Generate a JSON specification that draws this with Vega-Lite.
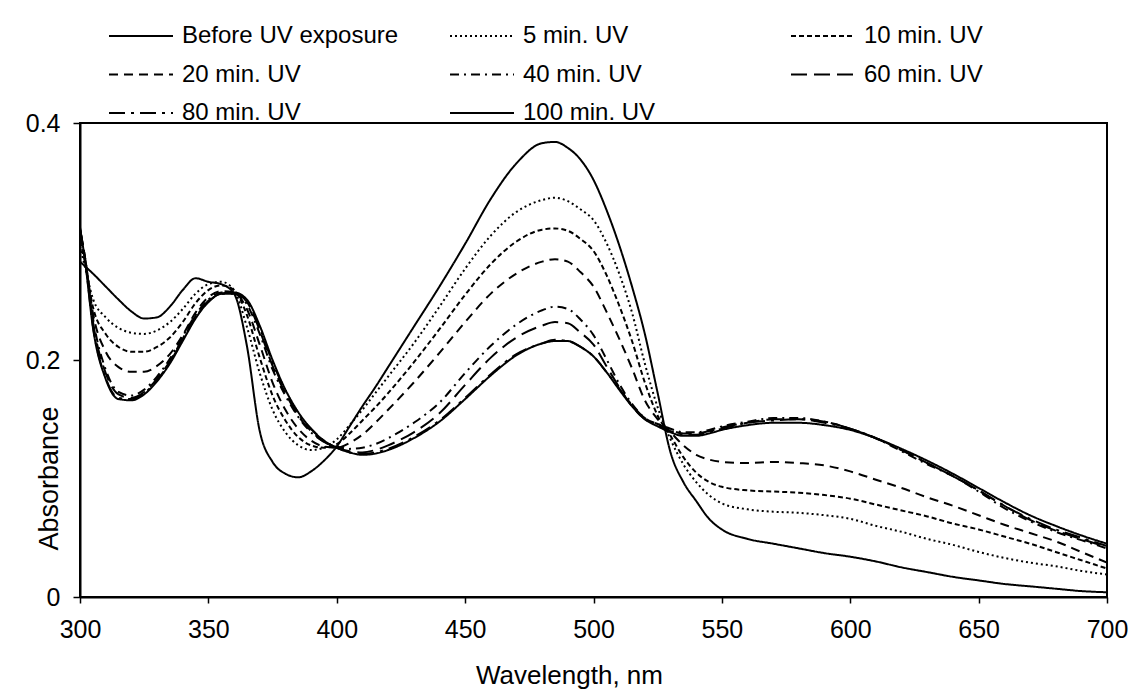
{
  "$schema": "https://vega.github.io/schema/vega-lite/v6.json",
  "width": 1027,
  "height": 474,
  "autosize": {"type": "none"},
  "padding": {"left": 80, "top": 123, "right": 27, "bottom": 103},
  "background": "white",
  "config": {
    "font": "Liberation Sans",
    "view": {"stroke": "black", "strokeWidth": 2},
    "axis": {"grid": false, "domainColor": "black", "domainWidth": 2, "tickColor": "black", "tickWidth": 1.5, "labelColor": "black", "titleColor": "black", "titleFontWeight": "normal", "labelFont": "Liberation Sans", "titleFont": "Liberation Sans"}
  },
  "data": {"values": [
{"s":"Before UV exposure","w":300,"a":0.283},{"s":"Before UV exposure","w":302,"a":0.279},{"s":"Before UV exposure","w":305,"a":0.273},{"s":"Before UV exposure","w":310,"a":0.262},{"s":"Before UV exposure","w":315,"a":0.251},{"s":"Before UV exposure","w":320,"a":0.241},{"s":"Before UV exposure","w":325,"a":0.235},{"s":"Before UV exposure","w":330,"a":0.236},{"s":"Before UV exposure","w":335,"a":0.245},{"s":"Before UV exposure","w":340,"a":0.259},{"s":"Before UV exposure","w":345,"a":0.269},{"s":"Before UV exposure","w":350,"a":0.266},{"s":"Before UV exposure","w":355,"a":0.264},{"s":"Before UV exposure","w":360,"a":0.256},{"s":"Before UV exposure","w":365,"a":0.212},{"s":"Before UV exposure","w":370,"a":0.140},{"s":"Before UV exposure","w":375,"a":0.114},{"s":"Before UV exposure","w":380,"a":0.104},{"s":"Before UV exposure","w":385,"a":0.101},{"s":"Before UV exposure","w":390,"a":0.106},{"s":"Before UV exposure","w":395,"a":0.115},{"s":"Before UV exposure","w":400,"a":0.127},{"s":"Before UV exposure","w":405,"a":0.144},{"s":"Before UV exposure","w":410,"a":0.161},{"s":"Before UV exposure","w":415,"a":0.177},{"s":"Before UV exposure","w":420,"a":0.194},{"s":"Before UV exposure","w":430,"a":0.228},{"s":"Before UV exposure","w":440,"a":0.262},{"s":"Before UV exposure","w":450,"a":0.298},{"s":"Before UV exposure","w":460,"a":0.336},{"s":"Before UV exposure","w":470,"a":0.366},{"s":"Before UV exposure","w":480,"a":0.383},{"s":"Before UV exposure","w":485,"a":0.384},{"s":"Before UV exposure","w":490,"a":0.379},{"s":"Before UV exposure","w":495,"a":0.369},{"s":"Before UV exposure","w":500,"a":0.352},{"s":"Before UV exposure","w":505,"a":0.327},{"s":"Before UV exposure","w":510,"a":0.297},{"s":"Before UV exposure","w":515,"a":0.262},{"s":"Before UV exposure","w":520,"a":0.222},{"s":"Before UV exposure","w":525,"a":0.172},{"s":"Before UV exposure","w":530,"a":0.122},{"s":"Before UV exposure","w":535,"a":0.097},{"s":"Before UV exposure","w":540,"a":0.081},{"s":"Before UV exposure","w":545,"a":0.066},{"s":"Before UV exposure","w":550,"a":0.057},{"s":"Before UV exposure","w":560,"a":0.049},{"s":"Before UV exposure","w":570,"a":0.045},{"s":"Before UV exposure","w":580,"a":0.041},{"s":"Before UV exposure","w":590,"a":0.037},{"s":"Before UV exposure","w":600,"a":0.034},{"s":"Before UV exposure","w":610,"a":0.030},{"s":"Before UV exposure","w":620,"a":0.025},{"s":"Before UV exposure","w":630,"a":0.021},{"s":"Before UV exposure","w":640,"a":0.017},{"s":"Before UV exposure","w":650,"a":0.014},{"s":"Before UV exposure","w":660,"a":0.011},{"s":"Before UV exposure","w":670,"a":0.009},{"s":"Before UV exposure","w":680,"a":0.007},{"s":"Before UV exposure","w":690,"a":0.005},{"s":"Before UV exposure","w":700,"a":0.004},
{"s":"5 min. UV","w":300,"a":0.296},{"s":"5 min. UV","w":302,"a":0.278},{"s":"5 min. UV","w":305,"a":0.252},{"s":"5 min. UV","w":310,"a":0.236},{"s":"5 min. UV","w":315,"a":0.227},{"s":"5 min. UV","w":320,"a":0.223},{"s":"5 min. UV","w":325,"a":0.222},{"s":"5 min. UV","w":330,"a":0.225},{"s":"5 min. UV","w":335,"a":0.232},{"s":"5 min. UV","w":340,"a":0.243},{"s":"5 min. UV","w":345,"a":0.256},{"s":"5 min. UV","w":350,"a":0.264},{"s":"5 min. UV","w":355,"a":0.266},{"s":"5 min. UV","w":360,"a":0.259},{"s":"5 min. UV","w":365,"a":0.228},{"s":"5 min. UV","w":370,"a":0.189},{"s":"5 min. UV","w":375,"a":0.158},{"s":"5 min. UV","w":380,"a":0.139},{"s":"5 min. UV","w":385,"a":0.128},{"s":"5 min. UV","w":390,"a":0.124},{"s":"5 min. UV","w":395,"a":0.126},{"s":"5 min. UV","w":400,"a":0.133},{"s":"5 min. UV","w":405,"a":0.145},{"s":"5 min. UV","w":410,"a":0.158},{"s":"5 min. UV","w":415,"a":0.172},{"s":"5 min. UV","w":420,"a":0.186},{"s":"5 min. UV","w":430,"a":0.214},{"s":"5 min. UV","w":440,"a":0.245},{"s":"5 min. UV","w":450,"a":0.277},{"s":"5 min. UV","w":460,"a":0.305},{"s":"5 min. UV","w":470,"a":0.325},{"s":"5 min. UV","w":480,"a":0.335},{"s":"5 min. UV","w":485,"a":0.337},{"s":"5 min. UV","w":490,"a":0.334},{"s":"5 min. UV","w":495,"a":0.327},{"s":"5 min. UV","w":500,"a":0.318},{"s":"5 min. UV","w":505,"a":0.299},{"s":"5 min. UV","w":510,"a":0.273},{"s":"5 min. UV","w":515,"a":0.240},{"s":"5 min. UV","w":520,"a":0.197},{"s":"5 min. UV","w":525,"a":0.160},{"s":"5 min. UV","w":530,"a":0.133},{"s":"5 min. UV","w":535,"a":0.112},{"s":"5 min. UV","w":540,"a":0.097},{"s":"5 min. UV","w":545,"a":0.086},{"s":"5 min. UV","w":550,"a":0.079},{"s":"5 min. UV","w":560,"a":0.074},{"s":"5 min. UV","w":570,"a":0.072},{"s":"5 min. UV","w":580,"a":0.071},{"s":"5 min. UV","w":590,"a":0.069},{"s":"5 min. UV","w":600,"a":0.066},{"s":"5 min. UV","w":610,"a":0.060},{"s":"5 min. UV","w":620,"a":0.055},{"s":"5 min. UV","w":630,"a":0.049},{"s":"5 min. UV","w":640,"a":0.044},{"s":"5 min. UV","w":650,"a":0.038},{"s":"5 min. UV","w":660,"a":0.033},{"s":"5 min. UV","w":670,"a":0.029},{"s":"5 min. UV","w":680,"a":0.026},{"s":"5 min. UV","w":690,"a":0.022},{"s":"5 min. UV","w":700,"a":0.019},
{"s":"10 min. UV","w":300,"a":0.300},{"s":"10 min. UV","w":302,"a":0.282},{"s":"10 min. UV","w":305,"a":0.245},{"s":"10 min. UV","w":310,"a":0.222},{"s":"10 min. UV","w":315,"a":0.211},{"s":"10 min. UV","w":320,"a":0.207},{"s":"10 min. UV","w":325,"a":0.207},{"s":"10 min. UV","w":330,"a":0.211},{"s":"10 min. UV","w":335,"a":0.219},{"s":"10 min. UV","w":340,"a":0.232},{"s":"10 min. UV","w":345,"a":0.248},{"s":"10 min. UV","w":350,"a":0.259},{"s":"10 min. UV","w":355,"a":0.263},{"s":"10 min. UV","w":360,"a":0.259},{"s":"10 min. UV","w":365,"a":0.238},{"s":"10 min. UV","w":370,"a":0.202},{"s":"10 min. UV","w":375,"a":0.170},{"s":"10 min. UV","w":380,"a":0.149},{"s":"10 min. UV","w":385,"a":0.135},{"s":"10 min. UV","w":390,"a":0.128},{"s":"10 min. UV","w":395,"a":0.126},{"s":"10 min. UV","w":400,"a":0.129},{"s":"10 min. UV","w":405,"a":0.138},{"s":"10 min. UV","w":410,"a":0.149},{"s":"10 min. UV","w":415,"a":0.160},{"s":"10 min. UV","w":420,"a":0.172},{"s":"10 min. UV","w":430,"a":0.198},{"s":"10 min. UV","w":440,"a":0.226},{"s":"10 min. UV","w":450,"a":0.255},{"s":"10 min. UV","w":460,"a":0.281},{"s":"10 min. UV","w":470,"a":0.300},{"s":"10 min. UV","w":480,"a":0.310},{"s":"10 min. UV","w":485,"a":0.311},{"s":"10 min. UV","w":490,"a":0.309},{"s":"10 min. UV","w":495,"a":0.302},{"s":"10 min. UV","w":500,"a":0.292},{"s":"10 min. UV","w":505,"a":0.272},{"s":"10 min. UV","w":510,"a":0.246},{"s":"10 min. UV","w":515,"a":0.216},{"s":"10 min. UV","w":520,"a":0.181},{"s":"10 min. UV","w":525,"a":0.153},{"s":"10 min. UV","w":530,"a":0.136},{"s":"10 min. UV","w":535,"a":0.118},{"s":"10 min. UV","w":540,"a":0.105},{"s":"10 min. UV","w":545,"a":0.097},{"s":"10 min. UV","w":550,"a":0.093},{"s":"10 min. UV","w":560,"a":0.090},{"s":"10 min. UV","w":570,"a":0.089},{"s":"10 min. UV","w":580,"a":0.088},{"s":"10 min. UV","w":590,"a":0.086},{"s":"10 min. UV","w":600,"a":0.083},{"s":"10 min. UV","w":610,"a":0.078},{"s":"10 min. UV","w":620,"a":0.073},{"s":"10 min. UV","w":630,"a":0.068},{"s":"10 min. UV","w":640,"a":0.062},{"s":"10 min. UV","w":650,"a":0.057},{"s":"10 min. UV","w":660,"a":0.051},{"s":"10 min. UV","w":670,"a":0.045},{"s":"10 min. UV","w":680,"a":0.038},{"s":"10 min. UV","w":690,"a":0.031},{"s":"10 min. UV","w":700,"a":0.024},
{"s":"20 min. UV","w":300,"a":0.305},{"s":"20 min. UV","w":302,"a":0.285},{"s":"20 min. UV","w":305,"a":0.240},{"s":"20 min. UV","w":310,"a":0.207},{"s":"20 min. UV","w":315,"a":0.194},{"s":"20 min. UV","w":320,"a":0.190},{"s":"20 min. UV","w":325,"a":0.190},{"s":"20 min. UV","w":330,"a":0.195},{"s":"20 min. UV","w":335,"a":0.205},{"s":"20 min. UV","w":340,"a":0.221},{"s":"20 min. UV","w":345,"a":0.240},{"s":"20 min. UV","w":350,"a":0.253},{"s":"20 min. UV","w":355,"a":0.258},{"s":"20 min. UV","w":360,"a":0.257},{"s":"20 min. UV","w":365,"a":0.243},{"s":"20 min. UV","w":370,"a":0.213},{"s":"20 min. UV","w":375,"a":0.181},{"s":"20 min. UV","w":380,"a":0.158},{"s":"20 min. UV","w":385,"a":0.142},{"s":"20 min. UV","w":390,"a":0.132},{"s":"20 min. UV","w":395,"a":0.127},{"s":"20 min. UV","w":400,"a":0.126},{"s":"20 min. UV","w":405,"a":0.130},{"s":"20 min. UV","w":410,"a":0.137},{"s":"20 min. UV","w":415,"a":0.147},{"s":"20 min. UV","w":420,"a":0.158},{"s":"20 min. UV","w":430,"a":0.181},{"s":"20 min. UV","w":440,"a":0.206},{"s":"20 min. UV","w":450,"a":0.232},{"s":"20 min. UV","w":460,"a":0.256},{"s":"20 min. UV","w":470,"a":0.273},{"s":"20 min. UV","w":480,"a":0.283},{"s":"20 min. UV","w":485,"a":0.285},{"s":"20 min. UV","w":490,"a":0.283},{"s":"20 min. UV","w":495,"a":0.274},{"s":"20 min. UV","w":500,"a":0.262},{"s":"20 min. UV","w":505,"a":0.241},{"s":"20 min. UV","w":510,"a":0.218},{"s":"20 min. UV","w":515,"a":0.193},{"s":"20 min. UV","w":520,"a":0.166},{"s":"20 min. UV","w":525,"a":0.150},{"s":"20 min. UV","w":530,"a":0.139},{"s":"20 min. UV","w":535,"a":0.128},{"s":"20 min. UV","w":540,"a":0.120},{"s":"20 min. UV","w":545,"a":0.116},{"s":"20 min. UV","w":550,"a":0.114},{"s":"20 min. UV","w":560,"a":0.113},{"s":"20 min. UV","w":570,"a":0.114},{"s":"20 min. UV","w":580,"a":0.113},{"s":"20 min. UV","w":590,"a":0.111},{"s":"20 min. UV","w":600,"a":0.106},{"s":"20 min. UV","w":610,"a":0.099},{"s":"20 min. UV","w":620,"a":0.092},{"s":"20 min. UV","w":630,"a":0.084},{"s":"20 min. UV","w":640,"a":0.077},{"s":"20 min. UV","w":650,"a":0.069},{"s":"20 min. UV","w":660,"a":0.061},{"s":"20 min. UV","w":670,"a":0.054},{"s":"20 min. UV","w":680,"a":0.047},{"s":"20 min. UV","w":690,"a":0.038},{"s":"20 min. UV","w":700,"a":0.029},
{"s":"40 min. UV","w":300,"a":0.310},{"s":"40 min. UV","w":302,"a":0.286},{"s":"40 min. UV","w":305,"a":0.236},{"s":"40 min. UV","w":310,"a":0.192},{"s":"40 min. UV","w":315,"a":0.173},{"s":"40 min. UV","w":320,"a":0.170},{"s":"40 min. UV","w":325,"a":0.175},{"s":"40 min. UV","w":330,"a":0.186},{"s":"40 min. UV","w":335,"a":0.201},{"s":"40 min. UV","w":340,"a":0.220},{"s":"40 min. UV","w":345,"a":0.238},{"s":"40 min. UV","w":350,"a":0.251},{"s":"40 min. UV","w":355,"a":0.257},{"s":"40 min. UV","w":360,"a":0.256},{"s":"40 min. UV","w":365,"a":0.247},{"s":"40 min. UV","w":370,"a":0.222},{"s":"40 min. UV","w":375,"a":0.192},{"s":"40 min. UV","w":380,"a":0.170},{"s":"40 min. UV","w":385,"a":0.152},{"s":"40 min. UV","w":390,"a":0.139},{"s":"40 min. UV","w":395,"a":0.131},{"s":"40 min. UV","w":400,"a":0.127},{"s":"40 min. UV","w":405,"a":0.125},{"s":"40 min. UV","w":410,"a":0.126},{"s":"40 min. UV","w":415,"a":0.129},{"s":"40 min. UV","w":420,"a":0.134},{"s":"40 min. UV","w":430,"a":0.147},{"s":"40 min. UV","w":440,"a":0.164},{"s":"40 min. UV","w":450,"a":0.189},{"s":"40 min. UV","w":460,"a":0.212},{"s":"40 min. UV","w":470,"a":0.230},{"s":"40 min. UV","w":480,"a":0.242},{"s":"40 min. UV","w":485,"a":0.245},{"s":"40 min. UV","w":490,"a":0.243},{"s":"40 min. UV","w":495,"a":0.234},{"s":"40 min. UV","w":500,"a":0.221},{"s":"40 min. UV","w":505,"a":0.201},{"s":"40 min. UV","w":510,"a":0.180},{"s":"40 min. UV","w":515,"a":0.163},{"s":"40 min. UV","w":520,"a":0.151},{"s":"40 min. UV","w":525,"a":0.146},{"s":"40 min. UV","w":530,"a":0.142},{"s":"40 min. UV","w":535,"a":0.139},{"s":"40 min. UV","w":540,"a":0.139},{"s":"40 min. UV","w":545,"a":0.141},{"s":"40 min. UV","w":550,"a":0.144},{"s":"40 min. UV","w":560,"a":0.148},{"s":"40 min. UV","w":570,"a":0.151},{"s":"40 min. UV","w":580,"a":0.151},{"s":"40 min. UV","w":590,"a":0.148},{"s":"40 min. UV","w":600,"a":0.142},{"s":"40 min. UV","w":610,"a":0.134},{"s":"40 min. UV","w":620,"a":0.123},{"s":"40 min. UV","w":630,"a":0.112},{"s":"40 min. UV","w":640,"a":0.102},{"s":"40 min. UV","w":650,"a":0.089},{"s":"40 min. UV","w":660,"a":0.075},{"s":"40 min. UV","w":670,"a":0.064},{"s":"40 min. UV","w":680,"a":0.055},{"s":"40 min. UV","w":690,"a":0.048},{"s":"40 min. UV","w":700,"a":0.041},
{"s":"60 min. UV","w":300,"a":0.310},{"s":"60 min. UV","w":302,"a":0.286},{"s":"60 min. UV","w":305,"a":0.233},{"s":"60 min. UV","w":310,"a":0.189},{"s":"60 min. UV","w":315,"a":0.171},{"s":"60 min. UV","w":320,"a":0.168},{"s":"60 min. UV","w":325,"a":0.173},{"s":"60 min. UV","w":330,"a":0.184},{"s":"60 min. UV","w":335,"a":0.199},{"s":"60 min. UV","w":340,"a":0.218},{"s":"60 min. UV","w":345,"a":0.237},{"s":"60 min. UV","w":350,"a":0.250},{"s":"60 min. UV","w":355,"a":0.256},{"s":"60 min. UV","w":360,"a":0.256},{"s":"60 min. UV","w":365,"a":0.249},{"s":"60 min. UV","w":370,"a":0.225},{"s":"60 min. UV","w":375,"a":0.195},{"s":"60 min. UV","w":380,"a":0.172},{"s":"60 min. UV","w":385,"a":0.153},{"s":"60 min. UV","w":390,"a":0.140},{"s":"60 min. UV","w":395,"a":0.131},{"s":"60 min. UV","w":400,"a":0.126},{"s":"60 min. UV","w":405,"a":0.123},{"s":"60 min. UV","w":410,"a":0.122},{"s":"60 min. UV","w":415,"a":0.124},{"s":"60 min. UV","w":420,"a":0.128},{"s":"60 min. UV","w":430,"a":0.139},{"s":"60 min. UV","w":440,"a":0.155},{"s":"60 min. UV","w":450,"a":0.179},{"s":"60 min. UV","w":460,"a":0.202},{"s":"60 min. UV","w":470,"a":0.219},{"s":"60 min. UV","w":480,"a":0.229},{"s":"60 min. UV","w":485,"a":0.232},{"s":"60 min. UV","w":490,"a":0.231},{"s":"60 min. UV","w":495,"a":0.223},{"s":"60 min. UV","w":500,"a":0.213},{"s":"60 min. UV","w":505,"a":0.195},{"s":"60 min. UV","w":510,"a":0.177},{"s":"60 min. UV","w":515,"a":0.161},{"s":"60 min. UV","w":520,"a":0.150},{"s":"60 min. UV","w":525,"a":0.146},{"s":"60 min. UV","w":530,"a":0.141},{"s":"60 min. UV","w":535,"a":0.138},{"s":"60 min. UV","w":540,"a":0.138},{"s":"60 min. UV","w":545,"a":0.140},{"s":"60 min. UV","w":550,"a":0.143},{"s":"60 min. UV","w":560,"a":0.147},{"s":"60 min. UV","w":570,"a":0.150},{"s":"60 min. UV","w":580,"a":0.150},{"s":"60 min. UV","w":590,"a":0.148},{"s":"60 min. UV","w":600,"a":0.142},{"s":"60 min. UV","w":610,"a":0.134},{"s":"60 min. UV","w":620,"a":0.124},{"s":"60 min. UV","w":630,"a":0.113},{"s":"60 min. UV","w":640,"a":0.102},{"s":"60 min. UV","w":650,"a":0.090},{"s":"60 min. UV","w":660,"a":0.077},{"s":"60 min. UV","w":670,"a":0.065},{"s":"60 min. UV","w":680,"a":0.056},{"s":"60 min. UV","w":690,"a":0.049},{"s":"60 min. UV","w":700,"a":0.042},
{"s":"80 min. UV","w":300,"a":0.311},{"s":"80 min. UV","w":302,"a":0.284},{"s":"80 min. UV","w":305,"a":0.229},{"s":"80 min. UV","w":310,"a":0.185},{"s":"80 min. UV","w":315,"a":0.168},{"s":"80 min. UV","w":320,"a":0.167},{"s":"80 min. UV","w":325,"a":0.172},{"s":"80 min. UV","w":330,"a":0.183},{"s":"80 min. UV","w":335,"a":0.198},{"s":"80 min. UV","w":340,"a":0.217},{"s":"80 min. UV","w":345,"a":0.236},{"s":"80 min. UV","w":350,"a":0.249},{"s":"80 min. UV","w":355,"a":0.256},{"s":"80 min. UV","w":360,"a":0.256},{"s":"80 min. UV","w":365,"a":0.250},{"s":"80 min. UV","w":370,"a":0.227},{"s":"80 min. UV","w":375,"a":0.198},{"s":"80 min. UV","w":380,"a":0.174},{"s":"80 min. UV","w":385,"a":0.155},{"s":"80 min. UV","w":390,"a":0.142},{"s":"80 min. UV","w":395,"a":0.132},{"s":"80 min. UV","w":400,"a":0.126},{"s":"80 min. UV","w":405,"a":0.122},{"s":"80 min. UV","w":410,"a":0.121},{"s":"80 min. UV","w":415,"a":0.122},{"s":"80 min. UV","w":420,"a":0.125},{"s":"80 min. UV","w":430,"a":0.135},{"s":"80 min. UV","w":440,"a":0.149},{"s":"80 min. UV","w":450,"a":0.168},{"s":"80 min. UV","w":460,"a":0.188},{"s":"80 min. UV","w":470,"a":0.205},{"s":"80 min. UV","w":480,"a":0.214},{"s":"80 min. UV","w":485,"a":0.217},{"s":"80 min. UV","w":490,"a":0.216},{"s":"80 min. UV","w":495,"a":0.211},{"s":"80 min. UV","w":500,"a":0.203},{"s":"80 min. UV","w":505,"a":0.190},{"s":"80 min. UV","w":510,"a":0.176},{"s":"80 min. UV","w":515,"a":0.162},{"s":"80 min. UV","w":520,"a":0.151},{"s":"80 min. UV","w":525,"a":0.145},{"s":"80 min. UV","w":530,"a":0.140},{"s":"80 min. UV","w":535,"a":0.137},{"s":"80 min. UV","w":540,"a":0.137},{"s":"80 min. UV","w":545,"a":0.139},{"s":"80 min. UV","w":550,"a":0.142},{"s":"80 min. UV","w":560,"a":0.147},{"s":"80 min. UV","w":570,"a":0.149},{"s":"80 min. UV","w":580,"a":0.150},{"s":"80 min. UV","w":590,"a":0.147},{"s":"80 min. UV","w":600,"a":0.142},{"s":"80 min. UV","w":610,"a":0.134},{"s":"80 min. UV","w":620,"a":0.124},{"s":"80 min. UV","w":630,"a":0.113},{"s":"80 min. UV","w":640,"a":0.102},{"s":"80 min. UV","w":650,"a":0.090},{"s":"80 min. UV","w":660,"a":0.077},{"s":"80 min. UV","w":670,"a":0.066},{"s":"80 min. UV","w":680,"a":0.057},{"s":"80 min. UV","w":690,"a":0.050},{"s":"80 min. UV","w":700,"a":0.043},
{"s":"100 min. UV","w":300,"a":0.312},{"s":"100 min. UV","w":302,"a":0.283},{"s":"100 min. UV","w":305,"a":0.228},{"s":"100 min. UV","w":310,"a":0.184},{"s":"100 min. UV","w":315,"a":0.167},{"s":"100 min. UV","w":320,"a":0.166},{"s":"100 min. UV","w":325,"a":0.171},{"s":"100 min. UV","w":330,"a":0.182},{"s":"100 min. UV","w":335,"a":0.197},{"s":"100 min. UV","w":340,"a":0.216},{"s":"100 min. UV","w":345,"a":0.235},{"s":"100 min. UV","w":350,"a":0.249},{"s":"100 min. UV","w":355,"a":0.256},{"s":"100 min. UV","w":360,"a":0.257},{"s":"100 min. UV","w":365,"a":0.251},{"s":"100 min. UV","w":370,"a":0.229},{"s":"100 min. UV","w":375,"a":0.200},{"s":"100 min. UV","w":380,"a":0.175},{"s":"100 min. UV","w":385,"a":0.156},{"s":"100 min. UV","w":390,"a":0.142},{"s":"100 min. UV","w":395,"a":0.132},{"s":"100 min. UV","w":400,"a":0.126},{"s":"100 min. UV","w":405,"a":0.122},{"s":"100 min. UV","w":410,"a":0.120},{"s":"100 min. UV","w":415,"a":0.121},{"s":"100 min. UV","w":420,"a":0.124},{"s":"100 min. UV","w":430,"a":0.134},{"s":"100 min. UV","w":440,"a":0.148},{"s":"100 min. UV","w":450,"a":0.167},{"s":"100 min. UV","w":460,"a":0.187},{"s":"100 min. UV","w":470,"a":0.204},{"s":"100 min. UV","w":480,"a":0.214},{"s":"100 min. UV","w":485,"a":0.216},{"s":"100 min. UV","w":490,"a":0.216},{"s":"100 min. UV","w":495,"a":0.211},{"s":"100 min. UV","w":500,"a":0.203},{"s":"100 min. UV","w":505,"a":0.190},{"s":"100 min. UV","w":510,"a":0.175},{"s":"100 min. UV","w":515,"a":0.161},{"s":"100 min. UV","w":520,"a":0.150},{"s":"100 min. UV","w":525,"a":0.144},{"s":"100 min. UV","w":530,"a":0.139},{"s":"100 min. UV","w":535,"a":0.136},{"s":"100 min. UV","w":540,"a":0.136},{"s":"100 min. UV","w":545,"a":0.138},{"s":"100 min. UV","w":550,"a":0.141},{"s":"100 min. UV","w":560,"a":0.145},{"s":"100 min. UV","w":570,"a":0.147},{"s":"100 min. UV","w":580,"a":0.147},{"s":"100 min. UV","w":590,"a":0.145},{"s":"100 min. UV","w":600,"a":0.141},{"s":"100 min. UV","w":610,"a":0.134},{"s":"100 min. UV","w":620,"a":0.125},{"s":"100 min. UV","w":630,"a":0.115},{"s":"100 min. UV","w":640,"a":0.104},{"s":"100 min. UV","w":650,"a":0.092},{"s":"100 min. UV","w":660,"a":0.080},{"s":"100 min. UV","w":670,"a":0.069},{"s":"100 min. UV","w":680,"a":0.060},{"s":"100 min. UV","w":690,"a":0.052},{"s":"100 min. UV","w":700,"a":0.045}
  ]},
  "mark": {"type": "line", "color": "black", "strokeWidth": 2, "interpolate": "monotone", "clip": true},
  "encoding": {
    "x": {"field": "w", "type": "quantitative",
      "scale": {"domain": [300, 700], "nice": false, "zero": false},
      "axis": {"values": [300, 350, 400, 450, 500, 550, 600, 650, 700], "tickSize": 6, "labelFontSize": 25, "labelPadding": 14, "labelFlush": false, "labelOverlap": false,
        "title": "Wavelength, nm", "titleFontSize": 26, "titleX": 489, "titleY": 86, "titleAlign": "center", "titleBaseline": "alphabetic"}},
    "y": {"field": "a", "type": "quantitative",
      "scale": {"domain": [0, 0.4], "nice": false},
      "axis": {"values": [0, 0.2, 0.4], "format": ".1~f", "tickSize": 7, "labelFontSize": 25, "labelPadding": 13, "labelFlush": false, "labelOverlap": false,
        "title": "Absorbance", "titleFontSize": 27, "titleX": -31, "titleY": 355, "titleAngle": -90, "titleAlign": "center", "titleBaseline": "middle"}},
    "strokeDash": {"field": "s", "type": "nominal",
      "scale": {"domain": ["Before UV exposure", "5 min. UV", "10 min. UV", "20 min. UV", "40 min. UV", "60 min. UV", "80 min. UV", "100 min. UV"],
        "range": [[1, 0], [2, 3], [5, 3], [9, 6], [9, 5, 2, 5], [16, 7], [16, 6, 3, 6], [1, 0]]},
      "legend": {"title": null, "orient": "none", "legendX": 28, "legendY": -104, "direction": "horizontal", "columns": 3, "gridAlign": "all",
        "columnPadding": 47, "rowPadding": 9.5, "padding": 0, "symbolType": "M-1,0H3", "symbolSize": 1024, "symbolStrokeWidth": 2, "symbolStrokeColor": "black", "symbolFillColor": "transparent",
        "labelFontSize": 24, "labelColor": "black", "labelOffset": 40, "labelLimit": 400}}
  }
}
